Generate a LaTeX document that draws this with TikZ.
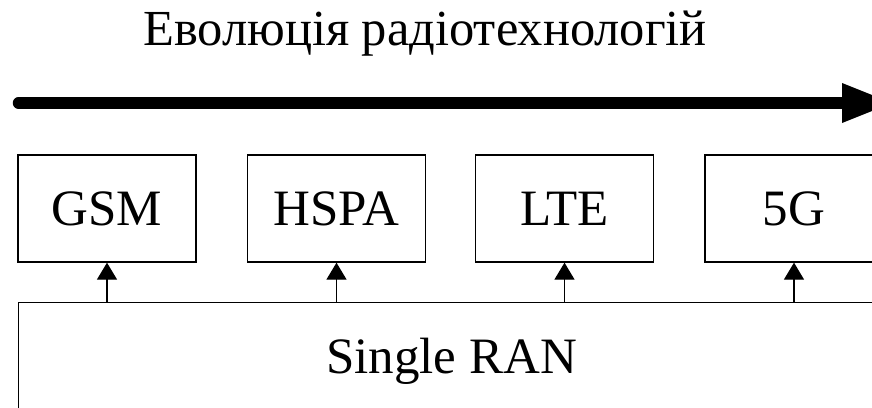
\documentclass[tikz,border=0pt]{standalone}
\usepackage{fontspec}
\setmainfont{LiberationSerif}[Extension=.ttf, UprightFont=*-Regular, BoldFont=*-Bold]
\usetikzlibrary{arrows.meta}
\begin{document}
\begin{tikzpicture}[x=1pt,y=-1pt,
  tech/.style={draw, line width=1.3pt, minimum width=178pt, minimum height=107pt,
    inner sep=0pt, font=\fontsize{51}{55}\selectfont},
  feed/.style={line width=1.3pt, -{Triangle[length=17pt,width=20pt]}},
]
\useasboundingbox (0,0) rectangle (872,407);
% heading
\node[font=\fontsize{50.5}{55}\selectfont, anchor=base] (title) at (425,45) {Еволюція радіотехнологій};
% thick evolution arrow
\coordinate (evs) at (18.5,103);
\coordinate (eve) at (842,103);
\coordinate (evtip) at (892,103);
\draw[line width=11.5pt, line cap=round] (evs) -- (eve);
\fill (842,83) -- (evtip) -- (842,123) -- cycle;
% radio technologies
\node[tech] (gsm)  at (107,208.5)   {GSM};
\node[tech] (hspa) at (336.5,208.5) {HSPA};
\node[tech] (lte)  at (564.5,208.5) {LTE};
\node[tech] (fiveg) at (794,208.5)  {5G};
% common platform
\node[draw, line width=1.3pt, minimum width=866pt, minimum height=108pt, anchor=north west,
  inner sep=0pt, text height=34pt, text depth=0pt, font=\fontsize{51}{55}\selectfont]
  (ran) at (18,302) {Single RAN};
\foreach \t in {gsm,hspa,lte,fiveg}
  \draw[feed] (ran.north -| \t.south) -- (\t.south);
\end{tikzpicture}
\end{document}
